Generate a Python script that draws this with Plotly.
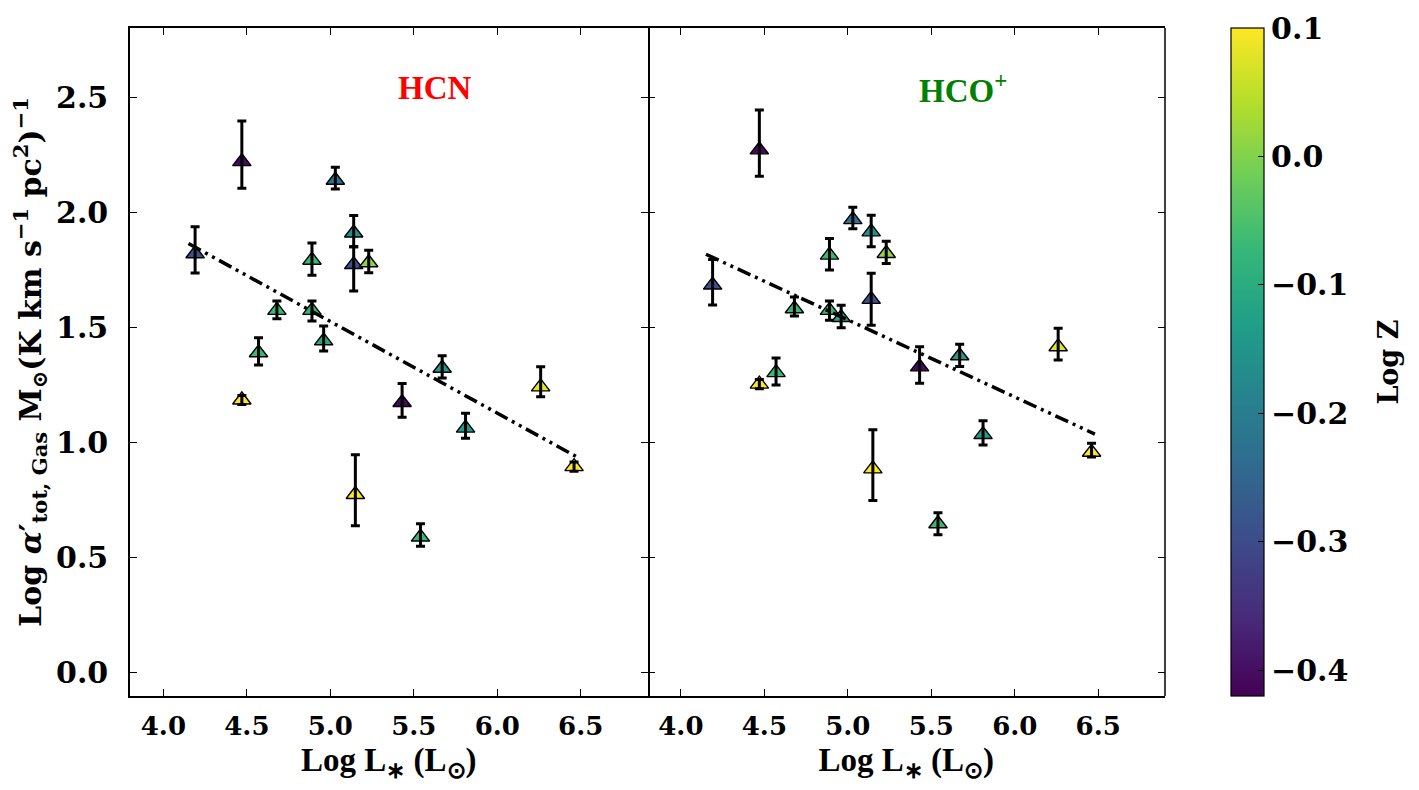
import plotly.graph_objects as go

# one entry per source, same sources in both panels
log_lum = [4.19, 4.47, 4.47, 4.57, 4.68, 4.89, 4.89, 4.96, 5.03, 5.14,
           5.14, 5.15, 5.23, 5.43, 5.54, 5.67, 5.81, 6.26, 6.46]
log_z = [-0.29, -0.41, 0.10, -0.07, -0.07, -0.07, -0.08, -0.11, -0.22, -0.16,
         -0.29, 0.10, 0.01, -0.41, -0.07, -0.14, -0.14, 0.08, 0.10]

hcn_alpha = [1.82, 2.22, 1.185, 1.39, 1.574, 1.792, 1.574, 1.442, 2.139, 1.91,
             1.773, 0.775, 1.781, 1.174, 0.59, 1.323, 1.063, 1.242, 0.896]
hcn_err_up = [0.117, 0.176, 0.02, 0.065, 0.041, 0.075, 0.041, 0.064, 0.056, 0.076,
              0.077, 0.172, 0.054, 0.083, 0.058, 0.054, 0.064, 0.087, 0.02]
hcn_err_dn = [0.084, 0.116, 0.02, 0.053, 0.036, 0.065, 0.046, 0.044, 0.038, 0.06,
              0.115, 0.136, 0.044, 0.064, 0.04, 0.043, 0.044, 0.043, 0.02]

hco_alpha = [1.684, 2.271, 1.254, 1.304, 1.581, 1.814, 1.574, 1.543, 1.968, 1.915,
             1.622, 0.886, 1.821, 1.329, 0.648, 1.377, 1.035, 1.416, 0.958]
hco_err_up = [0.111, 0.173, 0.02, 0.063, 0.051, 0.072, 0.041, 0.053, 0.054, 0.072,
              0.113, 0.17, 0.053, 0.087, 0.048, 0.05, 0.06, 0.081, 0.039]
hco_err_dn = [0.087, 0.115, 0.02, 0.054, 0.031, 0.065, 0.043, 0.044, 0.039, 0.065,
              0.112, 0.137, 0.043, 0.071, 0.048, 0.047, 0.045, 0.057, 0.02]

# linear fits: slope, intercept
hcn_fit = (-0.398, 3.516)
hco_fit = (-0.335, 3.208)
fit_x = [4.15, 6.48]

serif = "DejaVu Serif"
fig = go.Figure()

panels = [
    ("x", "y", hcn_alpha, hcn_err_up, hcn_err_dn, hcn_fit, True),
    ("x2", "y2", hco_alpha, hco_err_up, hco_err_dn, hco_fit, False),
]
for xa, ya, vals, eup, edn, fit, cbar in panels:
    fig.add_trace(go.Scatter(
        x=log_lum, y=vals, mode="markers", xaxis=xa, yaxis=ya, showlegend=False,
        marker=dict(symbol="triangle-up", size=16, color=log_z,
                    colorscale="Viridis", cmin=-0.42, cmax=0.1,
                    line=dict(color="black", width=1.4),
                    showscale=cbar,
                    colorbar=dict(x=1.0638, xanchor="left", xpad=0, ypad=0,
                                  y=0.5, len=1.0,
                                  thickness=33, outlinewidth=1.2, outlinecolor="black",
                                  ticks="inside", ticklen=6, tickwidth=1.2,
                                  tickcolor="black",
                                  tick0=0, dtick=0.1, tickformat=".1f",
                                  tickfont=dict(family=serif, size=30, weight="bold",
                                                color="black"))),
    ))
    # error bars on top of the markers, as in the original
    fig.add_trace(go.Scatter(
        x=log_lum, y=vals, mode="markers", xaxis=xa, yaxis=ya, showlegend=False,
        marker=dict(size=1, color="rgba(0,0,0,0)"),
        error_y=dict(type="data", symmetric=False, array=eup, arrayminus=edn,
                     color="black", thickness=3, width=4.5),
        hoverinfo="skip",
    ))
    fig.add_trace(go.Scatter(
        x=fit_x, y=[fit[0] * v + fit[1] for v in fit_x], mode="lines",
        xaxis=xa, yaxis=ya, showlegend=False,
        line=dict(color="black", width=3.5, dash="14px,5px,3px,5px,3px,5px"),
    ))

axis_common = dict(range=[3.8, 6.9], tickvals=[4.0, 4.5, 5.0, 5.5, 6.0, 6.5],
                   ticktext=["4.0", "4.5", "5.0", "5.5", "6.0", "6.5"],
                   showline=True, linecolor="black", linewidth=1.5, mirror="ticks",
                   ticks="inside", ticklen=7, tickwidth=1.2, tickcolor="black",
                   showgrid=False, zeroline=False, ticklabelstandoff=6,
                   tickfont=dict(family=serif, size=26, weight="bold", color="black"),
                   title=dict(text="Log L<sub>∗</sub> (L<sub>⊙</sub>)", standoff=8,
                              font=dict(family="Liberation Serif", size=33,
                                        weight="bold", color="black")))
yaxis_common = dict(range=[-0.1, 2.8], tickvals=[0.0, 0.5, 1.0, 1.5, 2.0, 2.5],
                    ticktext=["0.0", "0.5", "1.0", "1.5", "2.0", "2.5"],
                    linecolor="black", linewidth=1.5, mirror="ticks",
                    ticks="inside", ticklen=7, tickwidth=1.2, tickcolor="black",
                    showgrid=False, zeroline=False)

fig.update_layout(
    width=1419, height=790,
    margin=dict(l=122, r=262, t=20, b=102),
    plot_bgcolor="white", paper_bgcolor="white",
    xaxis=dict(domain=[0, 0.5], anchor="y", **axis_common),
    xaxis2=dict(domain=[0.5, 1], anchor="y2", **axis_common),
    yaxis=dict(anchor="x", showline=True, ticklabelstandoff=14,
               tickfont=dict(family=serif, size=30, weight="bold", color="black"),
               title=dict(text="Log <i>α</i>′<sub>tot, Gas</sub> M<sub>⊙</sub>"
                               "(K km s<sup>−1</sup> pc<sup>2</sup>)<sup>−1</sup>",
                          standoff=16,
                          font=dict(family=serif, size=30, weight="bold", color="black")),
               **yaxis_common),
    # the shared middle edge comes from the left panel's mirrored line
    yaxis2=dict(anchor="x2", matches="y", showline=False, showticklabels=False,
                **yaxis_common),
    shapes=[dict(type="line", xref="paper", yref="paper", x0=1, x1=1, y0=0, y1=1,
                 line=dict(color="black", width=1.5))],
    annotations=[
        dict(text="HCN", x=5.63, y=2.54, xref="x", yref="y", showarrow=False,
             font=dict(family="Liberation Serif", size=33, weight="bold", color="red")),
        dict(text="HCO<sup>+</sup>", x=5.69, y=2.54, xref="x2", yref="y2", showarrow=False,
             font=dict(family="Liberation Serif", size=33, weight="bold", color="green")),
        # colourbar title
        dict(text="Log Z", x=1.232, y=0.5, xref="paper", yref="paper",
             showarrow=False, textangle=-90,
             font=dict(family=serif, size=27, weight="bold", color="black")),
    ],
)

fig.write_html("out.html")
